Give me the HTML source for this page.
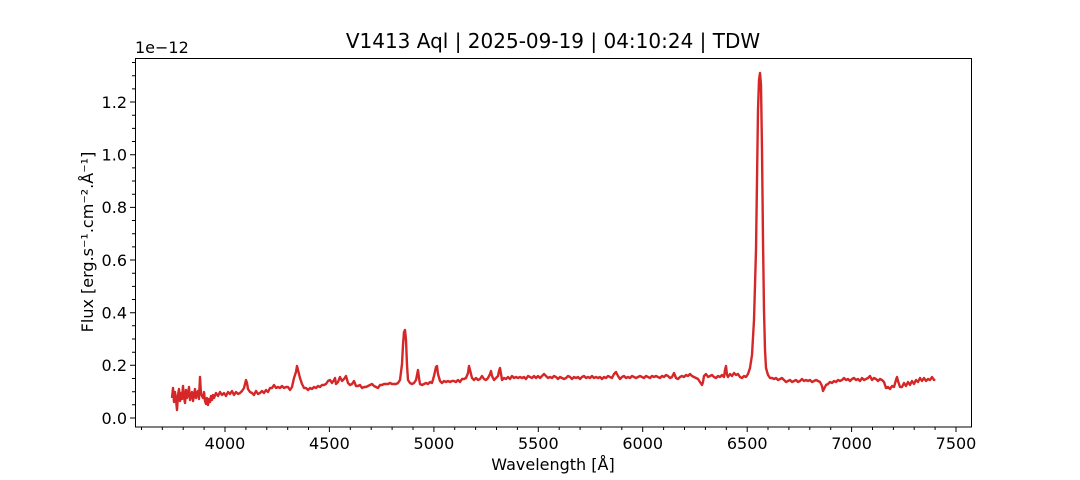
<!DOCTYPE html>
<html><head><meta charset="utf-8"><style>
html,body{margin:0;padding:0;background:#fff;}
svg{display:block;font-family:"DejaVu Sans","Liberation Sans",sans-serif;}
</style></head><body>
<svg width="1080" height="480" viewBox="0 0 1080 480" xmlns="http://www.w3.org/2000/svg">
<rect width="1080" height="480" fill="#fff"/>
<text x="553" y="48" font-size="20" text-anchor="middle" fill="#000">V1413 Aql | 2025-09-19 | 04:10:24 | TDW</text>
<text x="135" y="53" font-size="16" fill="#000">1e−12</text>
<g stroke="#000" stroke-width="1">
<path d="M141.5 427v3M162.3 427v3M183.2 427v3M204.1 427v3M245.9 427v3M266.8 427v3M287.7 427v3M308.5 427v3M350.3 427v3M371.2 427v3M392.1 427v3M413 427v3M454.7 427v3M475.6 427v3M496.5 427v3M517.4 427v3M559.2 427v3M580.1 427v3M600.9 427v3M621.8 427v3M663.6 427v3M684.5 427v3M705.4 427v3M726.3 427v3M768 427v3M788.9 427v3M809.8 427v3M830.7 427v3M872.5 427v3M893.4 427v3M914.2 427v3M935.1 427v3"/>
<path d="M225 427v5M329.4 427v5M433.9 427v5M538.3 427v5M642.7 427v5M747.2 427v5M851.6 427v5M956 427v5"/>
<path d="M132 404.8h3M132 391.7h3M132 378.5h3M132 352.2h3M132 339h3M132 325.8h3M132 299.5h3M132 286.4h3M132 273.2h3M132 246.9h3M132 233.7h3M132 220.5h3M132 194.2h3M132 181h3M132 167.9h3M132 141.5h3M132 128.4h3M132 115.2h3M132 88.9h3M132 75.7h3M132 62.5h3"/>
<path d="M130 418h5M130 365.3h5M130 312.7h5M130 260h5M130 207.4h5M130 154.7h5M130 102h5"/>
</g>
<g font-size="16" fill="#000" text-anchor="middle">
<text x="225" y="449">4000</text><text x="329.4" y="449">4500</text><text x="433.9" y="449">5000</text><text x="538.3" y="449">5500</text><text x="642.7" y="449">6000</text><text x="747.2" y="449">6500</text><text x="851.6" y="449">7000</text><text x="956" y="449">7500</text>
</g>
<g font-size="16" fill="#000" text-anchor="end">
<text x="127" y="424">0.0</text><text x="127" y="371">0.2</text><text x="127" y="318.5">0.4</text><text x="127" y="266">0.6</text><text x="127" y="213">0.8</text><text x="127" y="160.5">1.0</text><text x="127" y="108">1.2</text>
</g>
<polyline fill="none" stroke="#d62728" stroke-width="2.4" stroke-linejoin="round" points="172,398 173,388 174,402 175,392 176,400 177,410 178,395 179,389 180,401 181,393 182,399 183,386 184,397 185,403 186,390 187,398 188,394 189,387 190,400 191,396 192,392 193,401 194,395 195,389 196,398 197,393 198,391 199,399 200,377 201,394 202,396 203,398 204,392 205,401 206,404 207,398 208,405 209,399 210,402 211,396 212,400 213,395 214,398 216,393 218,396 220,392 222,395 224,393 226,396 228,392 230,394 232,391 234,395 236,392 238,394 240,393 242,391 244,388 245,384 246,380 247,383 248,389 250,392 252,393 254,395 256,391 258,394 260,393 262,391 264,393 266,390 268,392 270,388 272,388 274,385 276,388 278,387 280,388 282,386 284,388 286,387 288,387 290,390 292,387 294,378 296,372 297,366 298,370 300,378 302,384 304,388 306,388 308,390 310,388 312,389 314,387 316,388 318,386 320,387 322,385 324,385 326,384 328,381 330,380 332,383 334,380 335,378 336,384 338,382 340,377 342,381 344,379 346,376 348,383 350,385 352,384 354,381 356,386 358,386 360,385 362,388 364,387 366,387 368,386 370,385 372,384 374,386 376,387 378,388 380,385 382,385 384,384 386,384 388,384 390,383 392,384 394,384 396,384 398,383 400,380 402,364 403,345 404,332 405,330 406,340 407,365 408,380 410,383 412,384 414,383 416,380 418,370 419,378 420,384 422,385 424,384 426,383 428,384 430,382 432,383 434,376 436,367 437,366 438,374 440,381 442,383 444,381 446,382 448,381 450,382 452,381 454,381 456,382 458,380 460,382 462,379 464,379 466,378 468,373 469,366 470,370 472,378 474,380 476,378 478,380 480,379 482,376 484,379 486,380 488,378 490,374 491,371 492,376 494,380 496,378 498,376 499,371 500,368 501,374 502,380 504,378 506,379 508,377 510,379 512,376 514,378 516,377 518,378 520,377 522,378 524,377 526,379 528,376 530,377 532,378 534,376 536,378 538,376 540,378 542,376 544,374 546,376 548,378 550,377 552,378 554,376 556,377 558,379 560,377 562,378 564,379 566,378 568,376 570,377 572,379 574,377 576,378 578,377 580,379 582,377 584,376 586,378 588,377 590,378 592,376 594,378 596,377 598,378 600,377 602,379 604,377 606,378 608,376 610,377 612,378 614,374 616,372 618,376 620,379 622,377 624,376 626,378 628,377 630,378 632,376 634,377 636,378 638,377 640,376 642,377 644,378 646,376 648,377 650,378 652,376 654,377 656,376 658,377 660,378 662,376 664,377 666,375 668,376 670,378 672,377 674,373 676,378 678,379 680,377 682,376 684,377 686,375 688,376 690,374 692,376 694,377 696,378 698,379 700,382 702,385 703,382 704,376 706,374 708,377 710,376 712,375 714,377 716,378 718,376 720,377 722,375 724,377 725,370 726,366 727,375 728,377 730,374 732,376 734,373 736,375 738,374 740,377 742,378 744,376 746,377 748,374 750,368 752,355 754,320 756,250 757,180 758,110 759,80 760,73 761,85 762,150 763,240 764,310 765,350 766,368 768,375 770,378 772,378 774,379 776,378 778,380 780,379 782,378 784,380 786,382 788,381 790,380 792,382 794,381 796,380 798,382 800,381 802,379 804,381 806,380 808,381 810,380 812,382 814,381 816,380 818,381 820,382 822,386 823,391 824,389 826,385 828,384 830,382 832,383 834,381 836,382 838,380 840,381 842,380 844,378 846,380 848,379 850,381 852,379 854,378 856,380 858,379 860,381 862,378 864,380 866,379 868,378 870,376 872,380 874,378 876,379 878,381 880,379 882,380 884,382 886,388 888,387 890,389 892,386 894,387 896,380 897,377 898,381 900,387 902,387 904,383 906,386 908,382 910,385 912,381 914,384 916,380 918,382 920,378 922,381 924,378 926,381 928,379 930,380 932,377 934,380 935,379"/>
<rect x="135.5" y="58.5" width="836" height="368.5" fill="none" stroke="#000" stroke-width="1"/>
<text x="553" y="470" font-size="16" text-anchor="middle">Wavelength [Å]</text>
<text transform="translate(93,242) rotate(-90)" font-size="16" text-anchor="middle">Flux [erg.s⁻¹.cm⁻².Å⁻¹]</text>
</svg>
</body></html>
